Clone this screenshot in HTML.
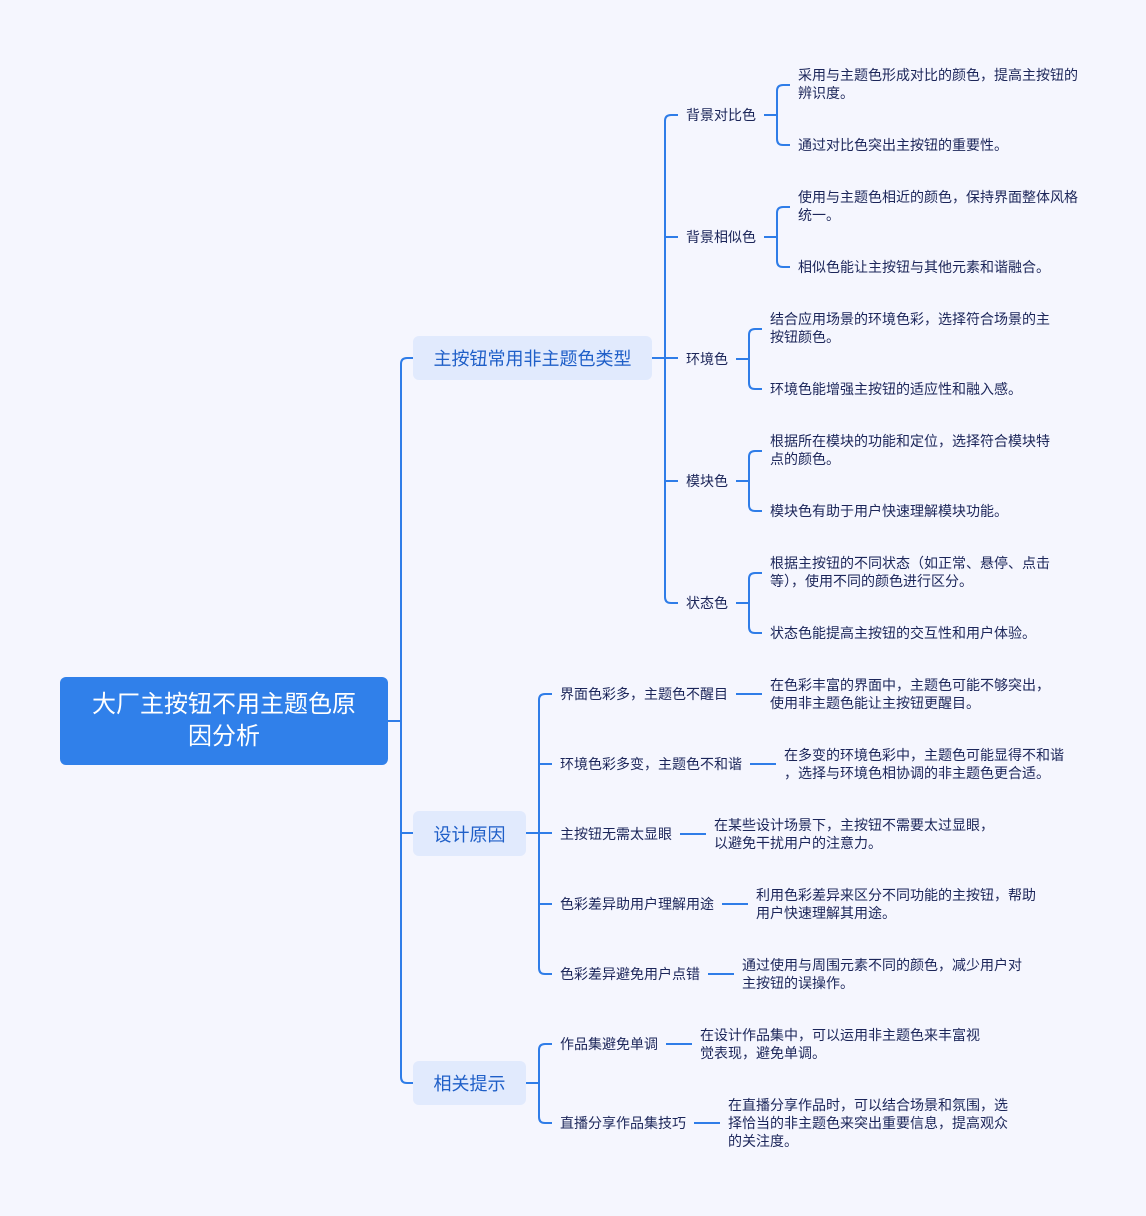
<!DOCTYPE html>
<html><head><meta charset="utf-8"><style>
body{margin:0;width:1146px;height:1216px;background:#f5f6fe;position:relative;overflow:hidden;font-family:"Liberation Sans","Noto Sans CJK SC",sans-serif;}
.t{position:absolute;font-size:14px;line-height:18px;color:#1b2559;white-space:nowrap;}
.l1{position:absolute;background:#e1eafd;border-radius:6px;color:#1f5fc8;font-size:18px;display:flex;align-items:center;justify-content:center;}
svg{position:absolute;left:0;top:0;}
</style></head><body>
<svg width="1146" height="1216" fill="none" stroke="#2f7de8" stroke-width="2">
<!-- root trunk -->
<path d="M388 721 H401"/>
<path d="M413 358 H407 Q401 358 401 364 V1077 Q401 1083 407 1083 H413"/>
<path d="M401 833 H413"/>
<!-- branch1 -->
<path d="M652 358 H678"/>
<path d="M678 115 H671 Q665 115 665 121 V597 Q665 603 671 603 H678"/>
<path d="M665 237 H678 M665 481 H678"/>
<path d="M764 115 H777 M790 85 H783 Q777 85 777 91 V139 Q777 145 783 145 H790"/>
<path d="M764 237 H777 M790 207 H783 Q777 207 777 213 V261 Q777 267 783 267 H790"/>
<path d="M736 359 H749 M762 329 H755 Q749 329 749 335 V383 Q749 389 755 389 H762"/>
<path d="M736 481 H749 M762 451 H755 Q749 451 749 457 V505 Q749 511 755 511 H762"/>
<path d="M736 603 H749 M762 573 H755 Q749 573 749 579 V627 Q749 633 755 633 H762"/>
<!-- branch2 -->
<path d="M526 833 H552"/>
<path d="M552 694 H545 Q539 694 539 700 V968 Q539 974 545 974 H552"/>
<path d="M539 764 H552 M539 904 H552"/>
<path d="M736 694 H762 M750 764 H776 M680 834 H706 M722 904 H748 M708 974 H734"/>
<!-- branch3 -->
<path d="M526 1083 H539"/>
<path d="M552 1044 H545 Q539 1044 539 1050 V1117 Q539 1123 545 1123 H552"/>
<path d="M666 1044 H692 M694 1123 H720"/>
</svg>
<div style="position:absolute;left:60px;top:677px;width:328px;height:88px;background:#3080ea;border-radius:6px;color:#fff;font-size:24px;line-height:32px;display:flex;align-items:center;justify-content:center;text-align:center;">大厂主按钮不用主题色原<br>因分析</div>
<div class="l1" style="left:413px;top:336px;width:239px;height:44px;">主按钮常用非主题色类型</div>
<div class="l1" style="left:413px;top:811px;width:113px;height:45px;">设计原因</div>
<div class="l1" style="left:413px;top:1061px;width:113px;height:44px;">相关提示</div>

<div class="t" style="left:686px;top:106px">背景对比色</div>
<div class="t" style="left:686px;top:228px">背景相似色</div>
<div class="t" style="left:686px;top:350px">环境色</div>
<div class="t" style="left:686px;top:472px">模块色</div>
<div class="t" style="left:686px;top:594px">状态色</div>

<div class="t" style="left:798px;top:66px">采用与主题色形成对比的颜色，提高主按钮的<br>辨识度。</div>
<div class="t" style="left:798px;top:136px">通过对比色突出主按钮的重要性。</div>
<div class="t" style="left:798px;top:188px">使用与主题色相近的颜色，保持界面整体风格<br>统一。</div>
<div class="t" style="left:798px;top:258px">相似色能让主按钮与其他元素和谐融合。</div>
<div class="t" style="left:770px;top:310px">结合应用场景的环境色彩，选择符合场景的主<br>按钮颜色。</div>
<div class="t" style="left:770px;top:380px">环境色能增强主按钮的适应性和融入感。</div>
<div class="t" style="left:770px;top:432px">根据所在模块的功能和定位，选择符合模块特<br>点的颜色。</div>
<div class="t" style="left:770px;top:502px">模块色有助于用户快速理解模块功能。</div>
<div class="t" style="left:770px;top:554px">根据主按钮的不同状态（如正常、悬停、点击<br>等），使用不同的颜色进行区分。</div>
<div class="t" style="left:770px;top:624px">状态色能提高主按钮的交互性和用户体验。</div>

<div class="t" style="left:560px;top:685px">界面色彩多，主题色不醒目</div>
<div class="t" style="left:560px;top:755px">环境色彩多变，主题色不和谐</div>
<div class="t" style="left:560px;top:825px">主按钮无需太显眼</div>
<div class="t" style="left:560px;top:895px">色彩差异助用户理解用途</div>
<div class="t" style="left:560px;top:965px">色彩差异避免用户点错</div>
<div class="t" style="left:770px;top:676px">在色彩丰富的界面中，主题色可能不够突出，<br>使用非主题色能让主按钮更醒目。</div>
<div class="t" style="left:784px;top:746px">在多变的环境色彩中，主题色可能显得不和谐<br>，选择与环境色相协调的非主题色更合适。</div>
<div class="t" style="left:714px;top:816px">在某些设计场景下，主按钮不需要太过显眼，<br>以避免干扰用户的注意力。</div>
<div class="t" style="left:756px;top:886px">利用色彩差异来区分不同功能的主按钮，帮助<br>用户快速理解其用途。</div>
<div class="t" style="left:742px;top:956px">通过使用与周围元素不同的颜色，减少用户对<br>主按钮的误操作。</div>

<div class="t" style="left:560px;top:1035px">作品集避免单调</div>
<div class="t" style="left:560px;top:1114px">直播分享作品集技巧</div>
<div class="t" style="left:700px;top:1026px">在设计作品集中，可以运用非主题色来丰富视<br>觉表现，避免单调。</div>
<div class="t" style="left:728px;top:1096px">在直播分享作品时，可以结合场景和氛围，选<br>择恰当的非主题色来突出重要信息，提高观众<br>的关注度。</div>
</body></html>
